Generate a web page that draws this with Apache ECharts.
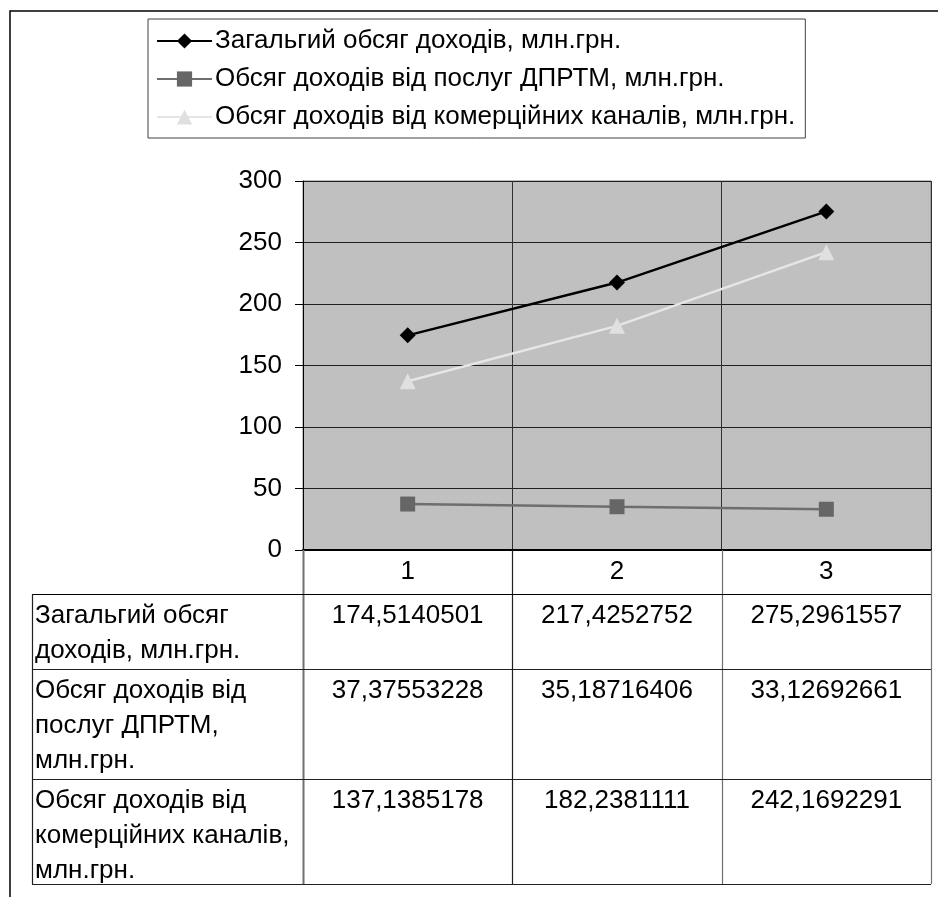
<!DOCTYPE html>
<html>
<head>
<meta charset="utf-8">
<script src="https://cdn.jsdelivr.net/npm/echarts@6/dist/echarts.min.js"></script>
<style>
html,body{margin:0;padding:0;background:#fff;}
#c{width:938px;height:897px;}
</style>
</head>
<body>
<div id="c"></div>
<script>
var categories = ['1', '2', '3'];
var seriesNames = [
  'Загальгий обсяг доходів, млн.грн.',
  'Обсяг доходів від послуг ДПРТМ, млн.грн.',
  'Обсяг доходів від комерційних каналів, млн.грн.'
];
var totalIncome = [174.5140501, 217.4252752, 275.2961557];
var dprtmIncome = [37.37553228, 35.18716406, 33.12692661];
var commercialIncome = [137.1385178, 182.2381111, 242.1692291];
var rowLabelLines = [
  ['Загальгий обсяг', 'доходів, млн.грн.'],
  ['Обсяг доходів від', 'послуг ДПРТМ,', 'млн.грн.'],
  ['Обсяг доходів від', 'комерційних каналів,', 'млн.грн.']
];
var yTicks = {min: 0, max: 300, interval: 50};

var FONT = '"Liberation Sans", Arial, sans-serif';
var chart = echarts.init(document.getElementById('c'), null, {renderer: 'canvas'});

var option = {
  backgroundColor: '#ffffff',
  animation: false,
  legend: {
    orient: 'vertical',
    left: 148,
    top: 19,
    padding: [7, 10, 6, 8],
    itemGap: 8,
    itemWidth: 55,
    itemHeight: 19,
    borderColor: '#404040',
    borderWidth: 1,
    backgroundColor: '#ffffff',
    textStyle: {fontFamily: FONT, fontSize: 26, color: '#000', lineHeight: 30, padding: [0, 0, 0, -2]},
    data: seriesNames
  },
  grid: {
    left: 303, top: 181, right: 7, bottom: 347,
    show: true, backgroundColor: '#c0c0c0', borderColor: '#808080', borderWidth: 1,
    containLabel: false
  },
  xAxis: {
    type: 'category',
    data: categories,
    boundaryGap: true,
    axisLine: {show: true, lineStyle: {color: '#000', width: 2}},
    axisTick: {show: false},
    axisLabel: {fontFamily: FONT, fontSize: 26, color: '#000', margin: 9},
    splitLine: {show: true, lineStyle: {color: '#303030', width: 1}}
  },
  yAxis: {
    type: 'value',
    min: yTicks.min, max: yTicks.max, interval: yTicks.interval,
    axisLine: {show: true, lineStyle: {color: '#000', width: 1}},
    axisTick: {show: true, length: 8, lineStyle: {color: '#000'}},
    axisLabel: {fontFamily: FONT, fontSize: 26, color: '#000', margin: 21},
    splitLine: {show: true, lineStyle: {color: '#202020', width: 1}}
  },
  series: [
    {
      name: seriesNames[0], type: 'line', data: totalIncome,
      symbol: 'diamond', symbolSize: 16,
      lineStyle: {color: '#000', width: 2.5},
      itemStyle: {color: '#000'}
    },
    {
      name: seriesNames[1], type: 'line', data: dprtmIncome,
      symbol: 'rect', symbolSize: 15,
      lineStyle: {color: '#6e6e6e', width: 2.5},
      itemStyle: {color: '#666666'}
    },
    {
      name: seriesNames[2], type: 'line', data: commercialIncome,
      symbol: 'triangle', symbolSize: 16,
      lineStyle: {color: '#e6e6e6', width: 2.5},
      itemStyle: {color: '#e0e0e0'}
    }
  ]
};
chart.setOption(option);

// Build the data table below the x axis from the grid's own coordinates
(function () {
  var values = [totalIncome, dprtmIncome, commercialIncome];
  var p0 = chart.convertToPixel({gridIndex: 0}, [0, 0]);
  var p1 = chart.convertToPixel({gridIndex: 0}, [1, 0]);
  var colW = p1[0] - p0[0];
  var axisY = p0[1];
  var leftEdge = p0[0] - colW / 2;
  var rightEdge = leftEdge + colW * categories.length;
  var headerBottom = axisY + 44;
  var rowHeights = [75, 110, 105];
  var tableLeft = 32;
  var lineH = 35;
  var els = [];
  els.push({type: 'polyline', silent: true, shape: {points: [[10, 900], [10, 11], [940, 11]]},
    style: {stroke: '#000', lineWidth: 1.5, fill: null}, z: 100});
  var total = rowHeights.reduce(function (a, b) { return a + b; }, 0);
  for (var i = 0; i <= categories.length; i++) {
    var x = Math.round(leftEdge + colW * i) + 0.5;
    els.push({type: 'line', silent: true, shape: {x1: x, y1: axisY, x2: x, y2: headerBottom + total},
      style: {stroke: i === 1 ? '#202020' : '#707070', lineWidth: i === 0 ? 2 : 1.2}, z: 90});
  }
  var y = headerBottom;
  els.push({type: 'line', silent: true, shape: {x1: tableLeft, y1: y + 0.5, x2: rightEdge, y2: y + 0.5},
    style: {stroke: '#000', lineWidth: 1.2}, z: 90});
  var rowTops = [];
  for (var r = 0; r < rowHeights.length; r++) {
    rowTops.push(y);
    y += rowHeights[r];
    els.push({type: 'line', silent: true, shape: {x1: tableLeft, y1: y + 0.5, x2: rightEdge, y2: y + 0.5},
      style: {stroke: '#202020', lineWidth: 1.2}, z: 90});
  }
  els.push({type: 'line', silent: true, shape: {x1: tableLeft + 0.5, y1: headerBottom, x2: tableLeft + 0.5, y2: y},
    style: {stroke: '#202020', lineWidth: 1.2}, z: 90});
  for (var r2 = 0; r2 < rowHeights.length; r2++) {
    var top = rowTops[r2];
    rowLabelLines[r2].forEach(function (t, k) {
      els.push({type: 'text', silent: true, style: {text: t, x: tableLeft + 3, y: top + 22 + k * lineH,
        fontFamily: FONT, fontSize: 26, fill: '#000', align: 'left', verticalAlign: 'middle'}, z: 95});
    });
    for (var c = 0; c < categories.length; c++) {
      var cx = chart.convertToPixel({gridIndex: 0}, [c, 0])[0];
      els.push({type: 'text', silent: true, style: {text: String(values[r2][c]).replace('.', ','),
        x: cx, y: top + 22, fontFamily: FONT, fontSize: 26, fill: '#000', align: 'center', verticalAlign: 'middle'}, z: 95});
    }
  }
  chart.setOption({graphic: {elements: els}});
})();
</script>
</body>
</html>
